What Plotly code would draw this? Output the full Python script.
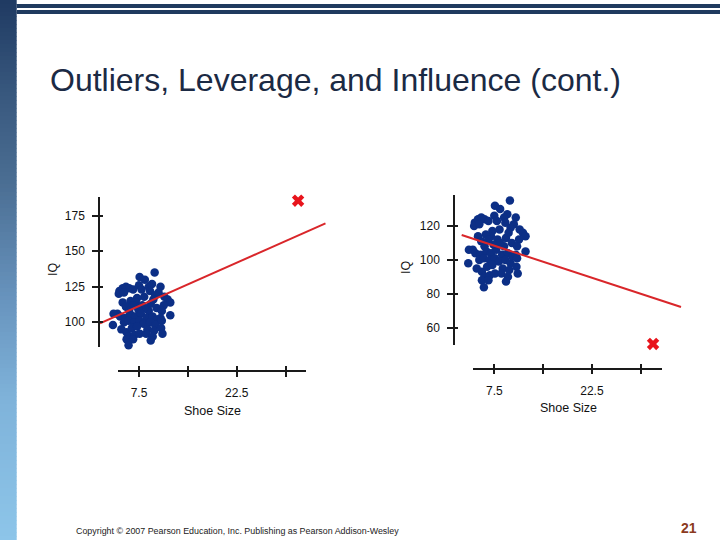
import plotly.graph_objects as go

# ---------------- data ----------------
shoe_size = [9.9, 7.6, 8.4, 9.5, 4.5, 5.0, 5.5, 6.0, 6.6, 4.4, 5.2, 7.5, 7.9, 9.0, 9.2,
             10.8, 10.5, 10.0, 11.4, 11.9, 12.3, 8.3, 7.2, 7.0, 6.2, 5.0, 5.5, 6.6, 8.0,
             9.3, 9.7, 10.2, 11.3, 11.0, 9.0, 8.4, 7.4, 6.0, 4.2, 3.6, 4.6, 5.4, 6.3, 7.0,
             7.8, 8.7, 9.6, 10.3, 10.8, 12.3, 3.5, 5.2, 5.9, 6.8, 7.6, 8.2, 9.2, 10.0,
             11.0, 4.8, 5.6, 6.4, 7.2, 8.8, 9.8, 10.9, 11.1, 6.0, 6.8, 7.6, 8.6, 9.6,
             5.6, 6.6, 9.3, 5.9]
iq = [135.0, 131.9, 130.0, 127.0, 122.0, 124.0, 125.0, 124.0, 123.0, 120.0, 121.0, 126.0,
      123.0, 125.0, 122.0, 125.0, 121.0, 119.0, 118.0, 116.0, 114.0, 118.0, 117.0, 114.0,
      115.0, 114.0, 111.0, 112.0, 112.0, 113.0, 116.0, 110.0, 112.0, 108.0, 108.0, 110.0,
      109.0, 108.0, 106.0, 106.0, 104.0, 103.0, 105.0, 104.0, 106.0, 103.0, 104.0, 102.0,
      103.0, 105.0, 98.0, 100.0, 101.0, 100.0, 101.0, 99.0, 100.0, 98.0, 101.0, 95.0, 93.0,
      96.0, 97.0, 95.0, 94.0, 96.0, 92.0, 90.0, 91.0, 92.0, 92.0, 90.0, 88.0, 88.0, 87.2,
      83.9]

outlier_left_x, outlier_left_y = [31.9], [185.6]
outlier_right_x, outlier_right_y = [31.9], [50.4]

fit_left_x, fit_left_y = [1.52, 36.1], [99.3, 169.6]
fit_right_x, fit_right_y = [2.49, 36.2], [114.7, 72.2]

iq_ticks_left = [100, 125, 150, 175]
iq_ticks_right = [60, 80, 100, 120]
shoe_ticks = [7.5, 15, 22.5, 30]
shoe_ticktext = ["7.5", "", "22.5", ""]

title_text = "Outliers, Leverage, and Influence (cont.)"
copyright_text = "Copyright © 2007 Pearson Education, Inc. Publishing as Pearson Addison-Wesley"
page_number = "21"

# ---------------- styling ----------------
W, H = 720, 540
FONT = "Liberation Sans, Arial, sans-serif"
DOT = "#0c2f86"
RED = "#d9262a"
XRED = "#e8141c"
AX = "#1a1a1a"


def px_x(p):
    return p / W


def px_y(p):
    return 1 - p / H


fig = go.Figure()

# Left panel traces
fig.add_trace(go.Scatter(x=shoe_size, y=iq, mode="markers", xaxis="x", yaxis="y", cliponaxis=False,
                         marker=dict(size=8.5, color=DOT), showlegend=False, hoverinfo="skip"))
fig.add_trace(go.Scatter(x=fit_left_x, y=fit_left_y, mode="lines", xaxis="x", yaxis="y", cliponaxis=False,
                         line=dict(color=RED, width=2), showlegend=False, hoverinfo="skip"))
fig.add_trace(go.Scatter(x=outlier_left_x, y=outlier_left_y, mode="markers", xaxis="x", yaxis="y",
                         cliponaxis=False, marker=dict(symbol="x", size=11, color=XRED),
                         showlegend=False, hoverinfo="skip"))
# dummy anchors for decorative axes (left)
for xa, ya in [("x2", "y"), ("x3", "y"), ("x", "y2")]:
    fig.add_trace(go.Scatter(x=[None], y=[None], xaxis=xa, yaxis=ya, showlegend=False, hoverinfo="skip"))

# Right panel traces
fig.add_trace(go.Scatter(x=shoe_size, y=iq, mode="markers", xaxis="x4", yaxis="y3", cliponaxis=False,
                         marker=dict(size=8.5, color=DOT), showlegend=False, hoverinfo="skip"))
fig.add_trace(go.Scatter(x=fit_right_x, y=fit_right_y, mode="lines", xaxis="x4", yaxis="y3", cliponaxis=False,
                         line=dict(color=RED, width=2), showlegend=False, hoverinfo="skip"))
fig.add_trace(go.Scatter(x=outlier_right_x, y=outlier_right_y, mode="markers", xaxis="x4", yaxis="y3",
                         cliponaxis=False, marker=dict(symbol="x", size=11, color=XRED),
                         showlegend=False, hoverinfo="skip"))
for xa, ya in [("x5", "y3"), ("x6", "y3"), ("x4", "y4")]:
    fig.add_trace(go.Scatter(x=[None], y=[None], xaxis=xa, yaxis=ya, showlegend=False, hoverinfo="skip"))

common = dict(showgrid=False, zeroline=False, fixedrange=True)
tickfont = dict(family=FONT, size=12, color="#111111")

# ---- left panel axes ----
L_data_x = [1.52, 36.18]
L_y_range = [82.8, 188.4]
L_x_vis = [4.28, 33.07]
L_y_dom = [px_y(346.7), px_y(196.7)]
fig.update_layout(
    xaxis=dict(domain=[px_x(100), px_x(326)], range=L_data_x, visible=False, anchor="y", **common),
    yaxis=dict(domain=L_y_dom, range=L_y_range, anchor="x", showline=True, linecolor=AX, linewidth=1.5,
               ticks="outside", ticklen=6, tickwidth=1.5, tickcolor=AX, tickvals=iq_ticks_left,
               tickfont=tickfont, ticklabelstandoff=5, **common),
    yaxis2=dict(domain=L_y_dom, range=L_y_range, anchor="x", showline=False, ticks="inside", ticklen=3,
                tickwidth=1.5, tickcolor=AX, tickvals=iq_ticks_left, showticklabels=False, **common),
    xaxis2=dict(domain=[px_x(118), px_x(305.7)], range=L_x_vis, anchor="free", position=px_y(371),
                showline=True, linecolor=AX, linewidth=1.5, ticks="outside", ticklen=5, tickwidth=1.5,
                tickcolor=AX, tickvals=shoe_ticks, ticktext=shoe_ticktext, tickfont=tickfont,
                ticklabelstandoff=6, **common),
    xaxis3=dict(domain=[px_x(118), px_x(305.7)], range=L_x_vis, anchor="free", position=px_y(371),
                showline=False, ticks="inside", ticklen=5, tickwidth=1.5, tickcolor=AX,
                tickvals=shoe_ticks, showticklabels=False, **common),
)

# ---- right panel axes ----
R_data_x = [1.46, 36.35]
R_y_range = [49.8, 138.3]
R_x_vis = [4.27, 33.22]
R_y_dom = [px_y(345), px_y(195)]
fig.update_layout(
    xaxis4=dict(domain=[px_x(455), px_x(682)], range=R_data_x, visible=False, anchor="y3", **common),
    yaxis3=dict(domain=R_y_dom, range=R_y_range, anchor="x4", showline=True, linecolor=AX, linewidth=1.5,
                ticks="outside", ticklen=6, tickwidth=1.5, tickcolor=AX, tickvals=iq_ticks_right,
                tickfont=tickfont, ticklabelstandoff=5, **common),
    yaxis4=dict(domain=R_y_dom, range=R_y_range, anchor="x4", showline=False, ticks="inside", ticklen=3,
                tickwidth=1.5, tickcolor=AX, tickvals=iq_ticks_right, showticklabels=False, **common),
    xaxis5=dict(domain=[px_x(473.3), px_x(661.7)], range=R_x_vis, anchor="free", position=px_y(368.7),
                showline=True, linecolor=AX, linewidth=1.5, ticks="outside", ticklen=5, tickwidth=1.5,
                tickcolor=AX, tickvals=shoe_ticks, ticktext=shoe_ticktext, tickfont=tickfont,
                ticklabelstandoff=6, **common),
    xaxis6=dict(domain=[px_x(473.3), px_x(661.7)], range=R_x_vis, anchor="free", position=px_y(368.7),
                showline=False, ticks="inside", ticklen=5, tickwidth=1.5, tickcolor=AX,
                tickvals=shoe_ticks, showticklabels=False, **common),
)

# ---------------- decorations ----------------
shapes = []
stops = [(0, (31, 58, 98)), (100, (58, 90, 128)), (180, (74, 109, 146)),
         (300, (104, 148, 190)), (400, (127, 179, 218)), (540, (141, 197, 233))]


def grad(yv):
    for (y0, c0), (y1, c1) in zip(stops[:-1], stops[1:]):
        if y0 <= yv <= y1:
            t = (yv - y0) / (y1 - y0)
            return "rgb(%d,%d,%d)" % tuple(round(a + (b - a) * t) for a, b in zip(c0, c1))
    return "rgb(141,197,233)"


step = 4
for y0 in range(0, H, step):
    shapes.append(dict(type="rect", xref="paper", yref="paper", x0=0, x1=px_x(16.7),
                       y0=px_y(y0 + step + 0.5), y1=px_y(y0), fillcolor=grad(y0 + step / 2),
                       line=dict(width=0), layer="below"))
for (a, b) in [(4, 8), (10, 14)]:
    shapes.append(dict(type="rect", xref="paper", yref="paper", x0=px_x(16.7), x1=1,
                       y0=px_y(b), y1=px_y(a), fillcolor="#1f3a5f", line=dict(width=0), layer="below"))

annotations = [
    dict(text=title_text, x=px_x(48), y=px_y(80), xref="paper", yref="paper", xanchor="left",
         yanchor="middle", showarrow=False, font=dict(family=FONT, size=32, color="#1b2a44")),
    dict(text=copyright_text, x=px_x(74), y=px_y(531), xref="paper", yref="paper", xanchor="left",
         yanchor="middle", showarrow=False, font=dict(family=FONT, size=8.9, color="#222222")),
    dict(text="<b>" + page_number + "</b>", x=px_x(689), y=px_y(528), xref="paper", yref="paper",
         xanchor="center", yanchor="middle", showarrow=False, font=dict(family=FONT, size=14, color="#8b3a1e")),
    dict(text="IQ", x=px_x(53), y=px_y(270), xref="paper", yref="paper", textangle=-90,
         xanchor="center", yanchor="middle", showarrow=False, font=dict(family=FONT, size=12.5, color="#111111")),
    dict(text="IQ", x=px_x(406), y=px_y(268), xref="paper", yref="paper", textangle=-90,
         xanchor="center", yanchor="middle", showarrow=False, font=dict(family=FONT, size=12.5, color="#111111")),
    dict(text="Shoe Size", x=px_x(212), y=px_y(411), xref="paper", yref="paper",
         xanchor="center", yanchor="middle", showarrow=False, font=dict(family=FONT, size=12.5, color="#111111")),
    dict(text="Shoe Size", x=px_x(568), y=px_y(408), xref="paper", yref="paper",
         xanchor="center", yanchor="middle", showarrow=False, font=dict(family=FONT, size=12.5, color="#111111")),
]

fig.update_layout(
    width=W, height=H, margin=dict(l=0, r=0, t=0, b=0),
    paper_bgcolor="white", plot_bgcolor="rgba(0,0,0,0)",
    shapes=shapes, annotations=annotations, showlegend=False,
    font=dict(family=FONT),
)

fig.write_html("out.html", config={"displayModeBar": False})
